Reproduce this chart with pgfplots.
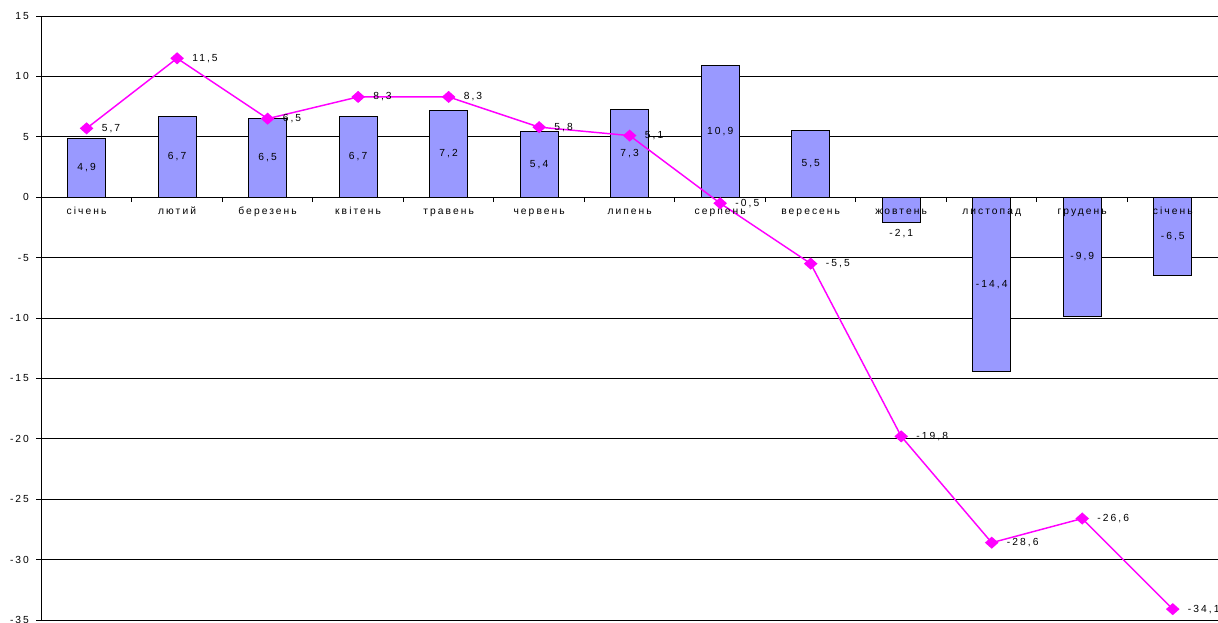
\documentclass[border=0pt]{standalone}
\usepackage{fontspec}
\setmainfont{Liberation Sans}[LetterSpace=20]
\usepackage{pgfplots}
\usepackage{pgfplotstable}
\pgfplotsset{compat=1.18}
\definecolor{barblue}{HTML}{9999FF}
\definecolor{mag}{HTML}{FF00FF}
\pgfplotstableread{
x y l
0 4.9 4,9
1 6.7 6,7
2 6.5 6,5
3 6.7 6,7
4 7.2 7,2
5 5.4 5,4
6 7.3 7,3
7 10.9 10,9
8 5.5 5,5
9 -2.1 -2,1
10 -14.4 -14,4
11 -9.9 -9,9
12 -6.5 -6,5
}\bars
\pgfplotstableread{
x y l
0 2.45 4,9
1 3.35 6,7
2 3.25 6,5
3 3.35 6,7
4 3.6 7,2
5 2.7 5,4
6 3.65 7,3
7 5.45 10,9
8 2.75 5,5
9 -3.0 -2,1
10 -7.2 -14,4
11 -4.95 -9,9
12 -3.25 -6,5
}\barlabels
\pgfplotstableread{
x y l
0 0 січень
1 0 лютий
2 0 березень
3 0 квітень
4 0 травень
5 0 червень
6 0 липень
7 0 серпень
8 0 вересень
9 0 жовтень
10 0 листопад
11 0 грудень
12 0 січень
}\months
\pgfplotstableread{
x y l
0 5.7 5,7
1 11.5 11,5
2 6.5 6,5
3 8.3 8,3
4 8.3 8,3
5 5.8 5,8
6 5.1 5,1
7 -0.5 -0,5
8 -5.5 -5,5
9 -19.8 -19,8
10 -28.6 -28,6
11 -26.6 -26,6
12 -34.1 -34,1
}\line
\begin{document}
\begin{tikzpicture}
\begin{axis}[
  scale only axis, width=882.5pt, height=453pt,
  xmin=-0.5, xmax=12.5, ymin=-35, ymax=15,
  axis x line*=middle, axis y line*=left,
  x axis line style={-, line width=0.75pt}, y axis line style={-, line width=0.75pt},
  ytick={-35,-30,...,15},
  yticklabels={-35,-30,-25,-20,-15,-10,-5,0,5,10,15},
  ymajorgrids, grid style={black, line width=0.75pt},
  xtick={0,...,12},
  xticklabels={},
  minor xtick={0.5,1.5,...,12.5},
  major x tick style={draw=none},
  minor x tick style={black, line width=0.75pt},
  ytick style={black, line width=0.75pt},
  tick align=outside,
  major tick length=3.75pt, minor tick length=3.75pt,
  ticklabel style={font=\fontsize{7.7}{9}\selectfont},
  yticklabel style={xshift=-2pt},
  clip=false,
]
\addplot[ybar, bar width=0.42, fill=barblue, draw=black, line width=0.75pt] table[x=x,y=y] {\bars};
\addplot[draw=none, mark=none, nodes near coords, point meta=explicit symbolic,
  nodes near coords align={center},
  every node near coord/.append style={anchor=center, font=\fontsize{7.7}{9}\selectfont, text=black}]
  table[x=x,y=y,meta=l] {\barlabels};
\addplot[draw=none, mark=none, nodes near coords, point meta=explicit symbolic,
  every node near coord/.append style={anchor=base, yshift=-13.3pt, inner sep=0pt, font=\fontsize{7.7}{9}\selectfont, text=black}]
  table[x=x,y=y,meta=l] {\months};
\addplot[mag, line width=1.1pt, mark=diamond*, mark size=3.8pt,
  mark options={fill=mag, draw=mag, xscale=1.5},
  nodes near coords, point meta=explicit symbolic,
  every node near coord/.append style={anchor=west, xshift=7.5pt, font=\fontsize{7.7}{9}\selectfont, text=black}]
  table[x=x,y=y,meta=l] {\line};
\end{axis}
\pgfresetboundingbox
\path (-31pt,-1.5pt) rectangle (882.5pt,465pt);
\end{tikzpicture}
\end{document}
